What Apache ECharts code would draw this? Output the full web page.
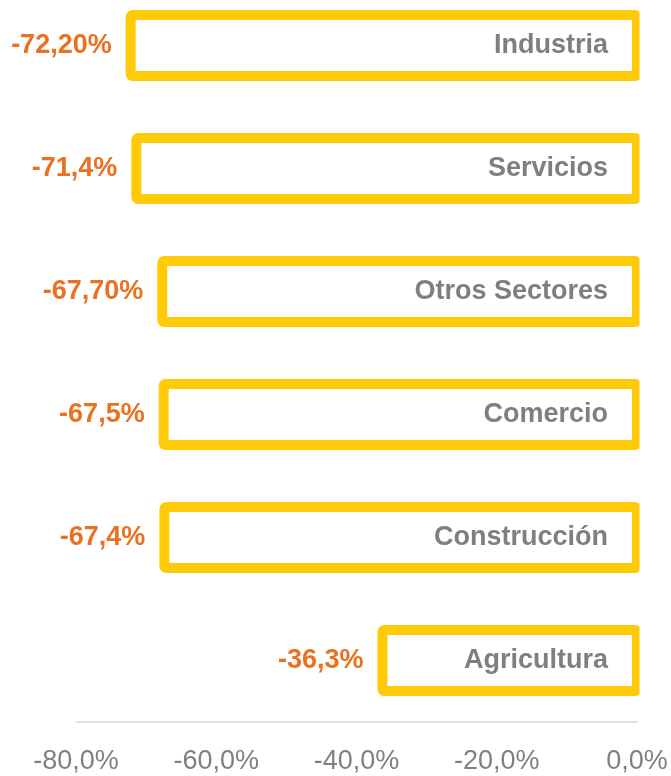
<!DOCTYPE html>
<html>
<head>
<meta charset="utf-8">
<script src="https://cdn.jsdelivr.net/npm/echarts@6/dist/echarts.min.js"></script>
<style>
html,body{margin:0;padding:0;background:#fff;overflow:hidden;width:671px;height:776px;}
#chart{width:671px;height:792px;position:absolute;left:0;top:-16px;}
</style>
</head>
<body>
<div id="chart"></div>
<script>
const categories = ['Industria', 'Servicios', 'Otros Sectores', 'Comercio', 'Construcción', 'Agricultura'];
const values = [-72.2, -71.4, -67.7, -67.5, -67.4, -36.3];
const valueLabels = ['-72,20%', '-71,4%', '-67,70%', '-67,5%', '-67,4%', '-36,3%'];
const xMin = -80, xMax = 0, xStep = 20;

const FONT = "'Liberation Sans', Arial, sans-serif";
const chart = echarts.init(document.getElementById('chart'));
chart.setOption({
  animation: false,
  backgroundColor: '#ffffff',
  grid: { left: 76, right: 34, top: 0, bottom: 54, containLabel: false },
  xAxis: {
    type: 'value',
    min: xMin, max: xMax, interval: xStep,
    axisLine: { show: true, onZero: false, lineStyle: { color: '#d9d9d9', width: 1.5 } },
    axisTick: { show: false },
    splitLine: { show: false },
    axisLabel: {
      color: '#808080', fontSize: 27, fontFamily: FONT, margin: 26,
      formatter: v => (v === 0 ? 0 : v).toFixed(1).replace('.', ',') + '%'
    }
  },
  yAxis: {
    type: 'category',
    data: categories,
    inverse: true,
    position: 'right',
    z: 10,
    axisLine: { show: false },
    axisTick: { show: false },
    axisLabel: {
      inside: true, margin: 29, color: '#7f7f7f', fontSize: 27,
      fontWeight: 'bold', fontFamily: FONT
    }
  },
  series: [{
    type: 'custom',
    clip: false,
    data: values.map((v, i) => [v, i]),
    encode: { x: 0, y: 1 },
    renderItem: function (params, api) {
      const v = api.value(0), idx = api.value(1);
      const p0 = api.coord([v, idx]);
      const p1 = api.coord([0, idx]);
      const h = api.size([0, 1])[1] * 0.496;
      return {
        type: 'group',
        children: [{
          type: 'rect',
          shape: { x: p0[0], y: p0[1] - h / 2, width: p1[0] - p0[0], height: h, r: 2 },
          style: { fill: '#ffffff', stroke: '#FFCA08', lineWidth: 10, lineJoin: 'round' },
          clipPath: {
            type: 'rect',
            shape: { x: 0, y: p0[1] - h, width: p1[0] + 2.5, height: h * 2 }
          }
        }, {
          type: 'text',
          style: {
            x: p0[0] - 19, y: p0[1],
            text: valueLabels[params.dataIndex],
            fill: '#EA7122', fontSize: 27, fontWeight: 'bold', fontFamily: FONT,
            align: 'right', verticalAlign: 'middle'
          }
        }]
      };
    }
  }]
});
</script>
</body>
</html>
